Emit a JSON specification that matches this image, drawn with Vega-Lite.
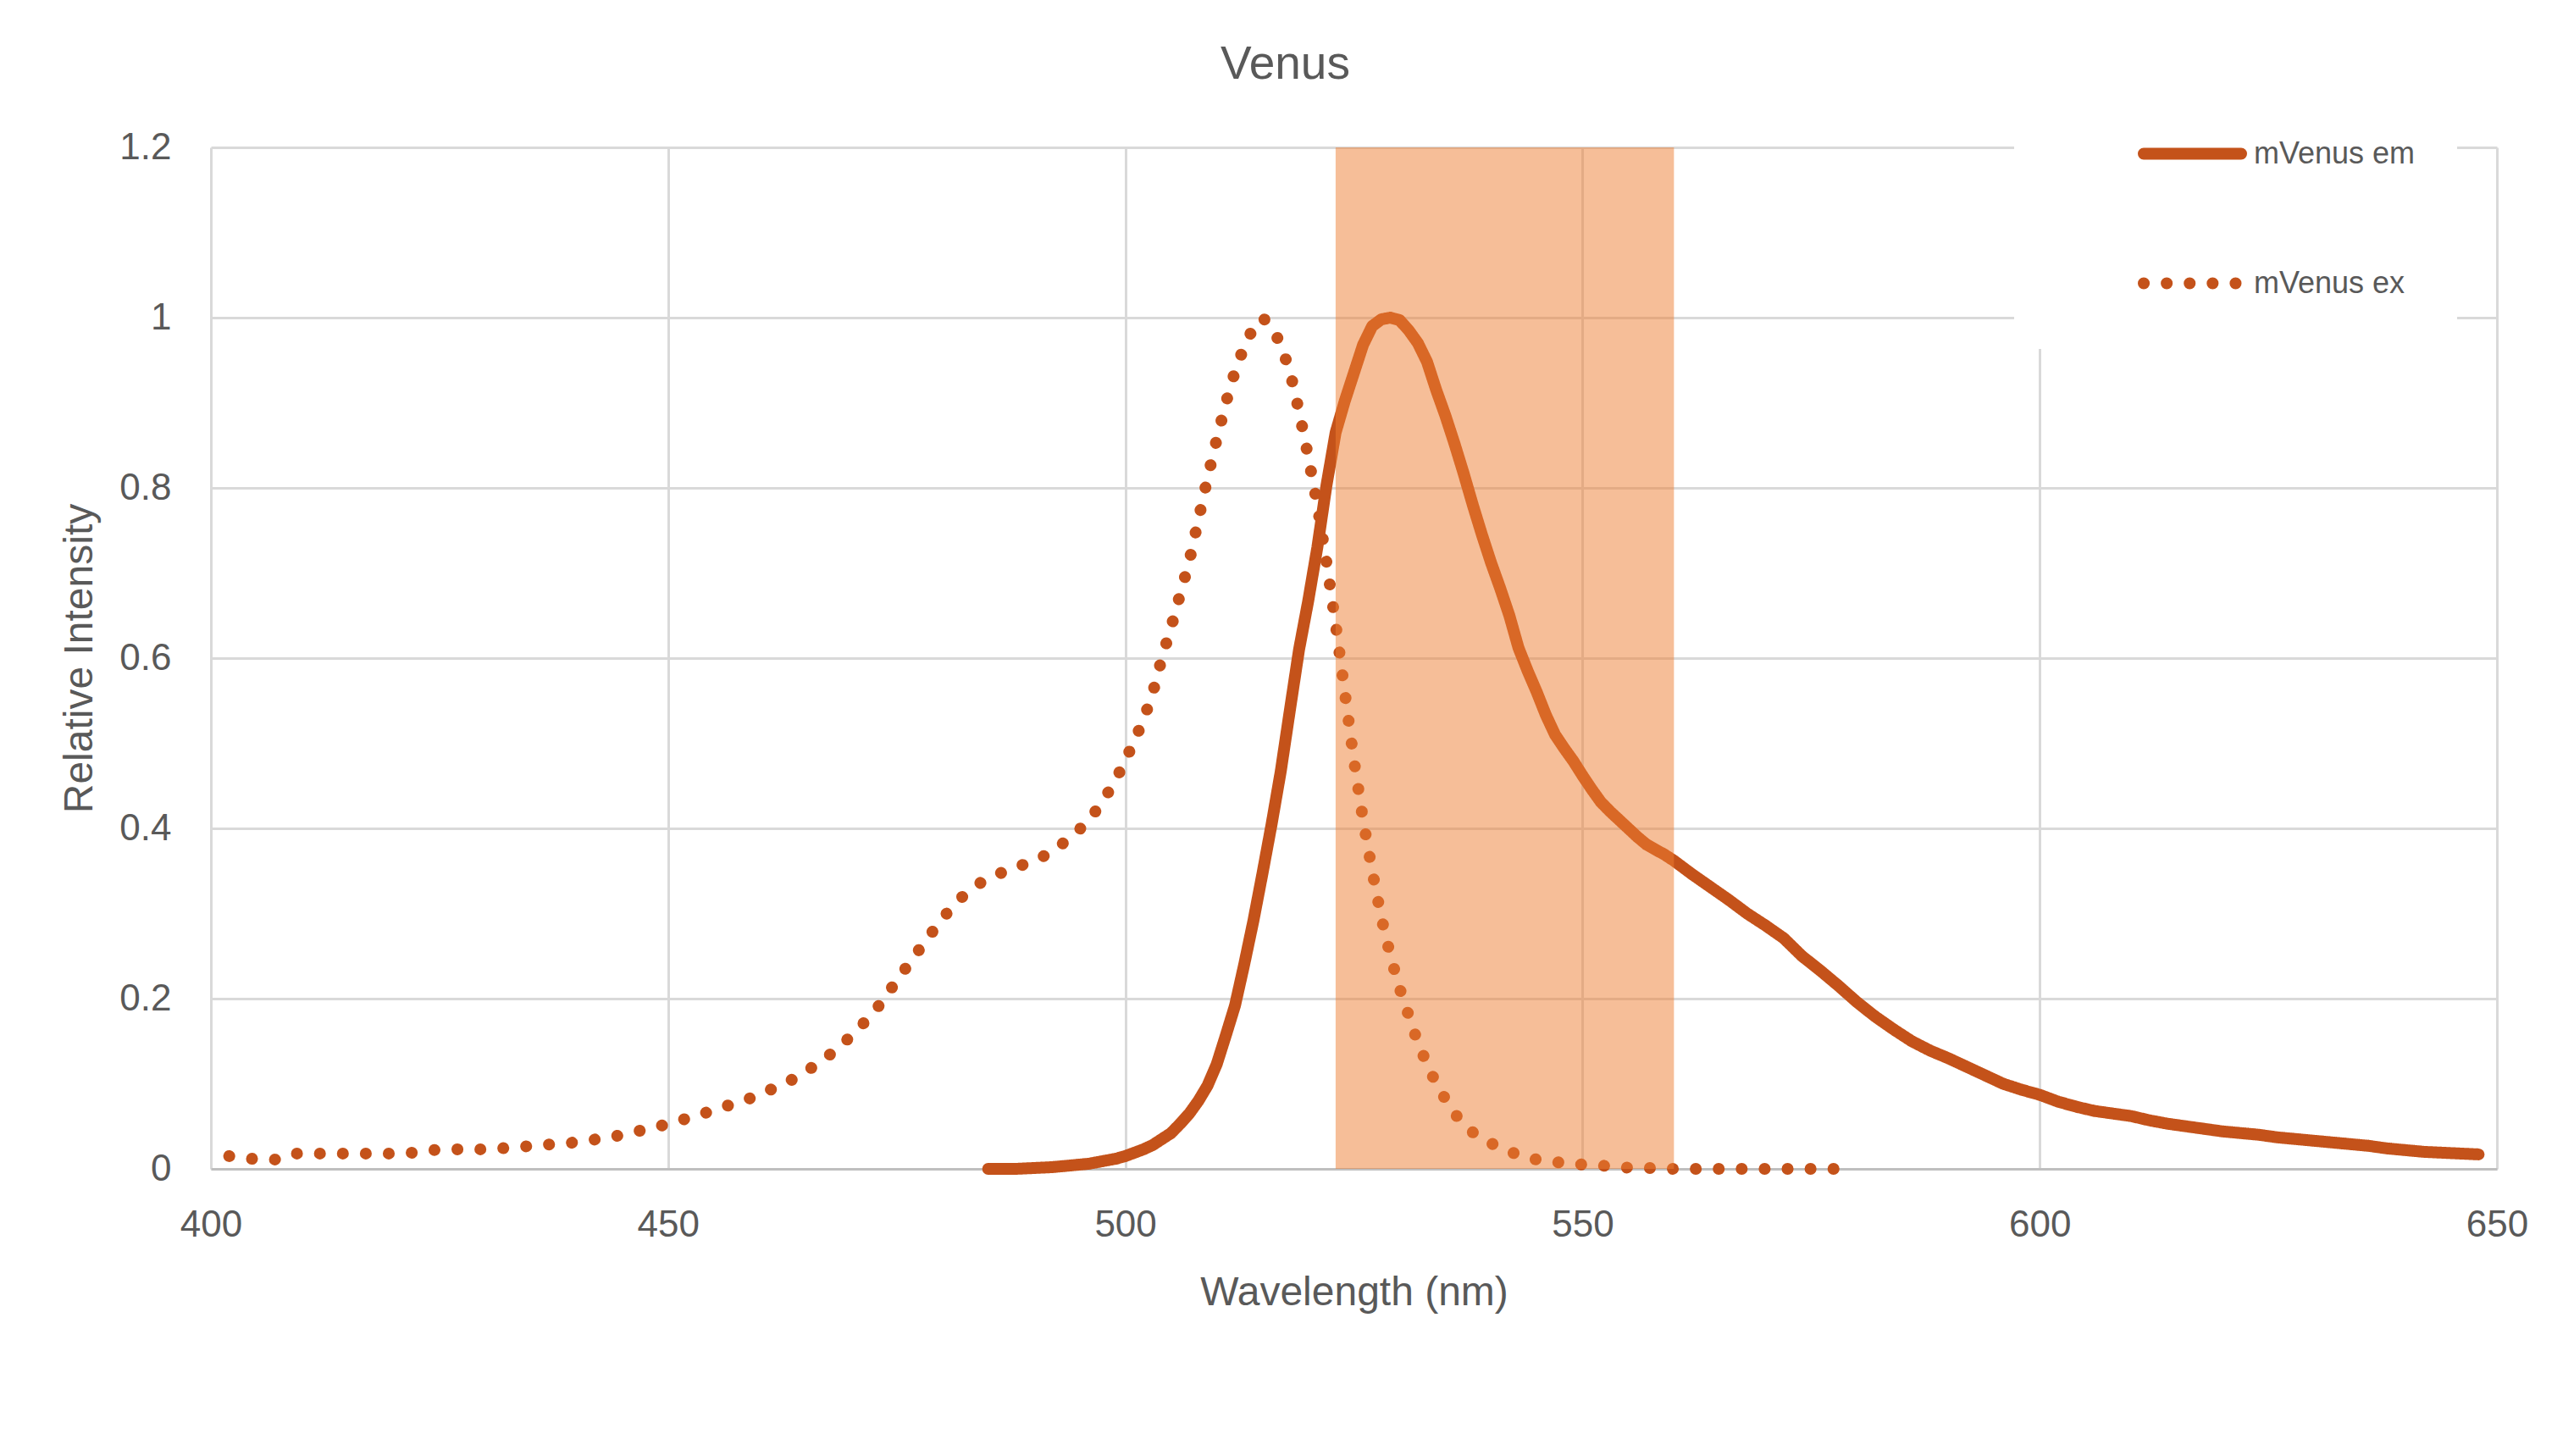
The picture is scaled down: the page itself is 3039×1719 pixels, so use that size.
{
  "$schema": "https://vega.github.io/schema/vega-lite/v6.json",
  "autosize": {"type": "none"},
  "padding": {"left": 249, "top": 174, "right": 91, "bottom": 339},
  "width": 2699,
  "height": 1206,
  "background": "white",
  "title": {"text": "Venus", "fontSize": 55, "font": "Liberation Sans", "fontWeight": "normal", "color": "#595959", "anchor": "middle", "frame": "group", "dx": -81, "offset": 0, "dy": 80, "baseline": "alphabetic"},
  "config": {"view": {"stroke": null}, "font": "Liberation Sans"},
  "datasets": {
    "spectra": [
      {"s": "mVenus ex", "wl": 402, "v": 0.015}, {"s": "mVenus ex", "wl": 404, "v": 0.012}, {"s": "mVenus ex", "wl": 407, "v": 0.011}, {"s": "mVenus ex", "wl": 409, "v": 0.018},
      {"s": "mVenus ex", "wl": 412, "v": 0.018}, {"s": "mVenus ex", "wl": 416, "v": 0.018}, {"s": "mVenus ex", "wl": 420, "v": 0.018}, {"s": "mVenus ex", "wl": 422, "v": 0.019},
      {"s": "mVenus ex", "wl": 424, "v": 0.022}, {"s": "mVenus ex", "wl": 427, "v": 0.023}, {"s": "mVenus ex", "wl": 430, "v": 0.023}, {"s": "mVenus ex", "wl": 433, "v": 0.025},
      {"s": "mVenus ex", "wl": 436, "v": 0.028}, {"s": "mVenus ex", "wl": 439, "v": 0.030}, {"s": "mVenus ex", "wl": 441, "v": 0.033}, {"s": "mVenus ex", "wl": 443, "v": 0.036},
      {"s": "mVenus ex", "wl": 445, "v": 0.040}, {"s": "mVenus ex", "wl": 447, "v": 0.045}, {"s": "mVenus ex", "wl": 449, "v": 0.050}, {"s": "mVenus ex", "wl": 451, "v": 0.056},
      {"s": "mVenus ex", "wl": 453, "v": 0.062}, {"s": "mVenus ex", "wl": 455, "v": 0.069}, {"s": "mVenus ex", "wl": 457, "v": 0.076}, {"s": "mVenus ex", "wl": 459, "v": 0.083},
      {"s": "mVenus ex", "wl": 461, "v": 0.092}, {"s": "mVenus ex", "wl": 462, "v": 0.097}, {"s": "mVenus ex", "wl": 463, "v": 0.102}, {"s": "mVenus ex", "wl": 464, "v": 0.107},
      {"s": "mVenus ex", "wl": 465, "v": 0.114}, {"s": "mVenus ex", "wl": 466, "v": 0.121}, {"s": "mVenus ex", "wl": 467, "v": 0.128}, {"s": "mVenus ex", "wl": 468, "v": 0.137},
      {"s": "mVenus ex", "wl": 469, "v": 0.146}, {"s": "mVenus ex", "wl": 470, "v": 0.156}, {"s": "mVenus ex", "wl": 471, "v": 0.167}, {"s": "mVenus ex", "wl": 472, "v": 0.178},
      {"s": "mVenus ex", "wl": 473, "v": 0.191}, {"s": "mVenus ex", "wl": 474, "v": 0.206}, {"s": "mVenus ex", "wl": 475, "v": 0.221}, {"s": "mVenus ex", "wl": 476, "v": 0.236},
      {"s": "mVenus ex", "wl": 477, "v": 0.251}, {"s": "mVenus ex", "wl": 478, "v": 0.265}, {"s": "mVenus ex", "wl": 479, "v": 0.280}, {"s": "mVenus ex", "wl": 480, "v": 0.294},
      {"s": "mVenus ex", "wl": 481, "v": 0.307}, {"s": "mVenus ex", "wl": 482, "v": 0.318}, {"s": "mVenus ex", "wl": 483, "v": 0.327}, {"s": "mVenus ex", "wl": 484, "v": 0.335},
      {"s": "mVenus ex", "wl": 485, "v": 0.341}, {"s": "mVenus ex", "wl": 486, "v": 0.346}, {"s": "mVenus ex", "wl": 487, "v": 0.350}, {"s": "mVenus ex", "wl": 488, "v": 0.354},
      {"s": "mVenus ex", "wl": 489, "v": 0.358}, {"s": "mVenus ex", "wl": 490, "v": 0.362}, {"s": "mVenus ex", "wl": 491, "v": 0.367}, {"s": "mVenus ex", "wl": 492, "v": 0.373},
      {"s": "mVenus ex", "wl": 493, "v": 0.381}, {"s": "mVenus ex", "wl": 494, "v": 0.389}, {"s": "mVenus ex", "wl": 495, "v": 0.399}, {"s": "mVenus ex", "wl": 496, "v": 0.409},
      {"s": "mVenus ex", "wl": 497, "v": 0.424}, {"s": "mVenus ex", "wl": 498, "v": 0.440}, {"s": "mVenus ex", "wl": 499, "v": 0.458}, {"s": "mVenus ex", "wl": 500, "v": 0.480},
      {"s": "mVenus ex", "wl": 501, "v": 0.503}, {"s": "mVenus ex", "wl": 502, "v": 0.528}, {"s": "mVenus ex", "wl": 503, "v": 0.559}, {"s": "mVenus ex", "wl": 504, "v": 0.600},
      {"s": "mVenus ex", "wl": 505, "v": 0.636}, {"s": "mVenus ex", "wl": 506, "v": 0.675}, {"s": "mVenus ex", "wl": 507, "v": 0.714}, {"s": "mVenus ex", "wl": 508, "v": 0.763},
      {"s": "mVenus ex", "wl": 509, "v": 0.812}, {"s": "mVenus ex", "wl": 510, "v": 0.857}, {"s": "mVenus ex", "wl": 511, "v": 0.900}, {"s": "mVenus ex", "wl": 512, "v": 0.937},
      {"s": "mVenus ex", "wl": 513, "v": 0.966}, {"s": "mVenus ex", "wl": 514, "v": 0.988}, {"s": "mVenus ex", "wl": 515, "v": 1.000}, {"s": "mVenus ex", "wl": 516, "v": 0.990},
      {"s": "mVenus ex", "wl": 517, "v": 0.968}, {"s": "mVenus ex", "wl": 518, "v": 0.937}, {"s": "mVenus ex", "wl": 519, "v": 0.890}, {"s": "mVenus ex", "wl": 520, "v": 0.837},
      {"s": "mVenus ex", "wl": 521, "v": 0.780}, {"s": "mVenus ex", "wl": 522, "v": 0.713}, {"s": "mVenus ex", "wl": 523, "v": 0.640}, {"s": "mVenus ex", "wl": 524, "v": 0.560},
      {"s": "mVenus ex", "wl": 525, "v": 0.480}, {"s": "mVenus ex", "wl": 526, "v": 0.410}, {"s": "mVenus ex", "wl": 527, "v": 0.350}, {"s": "mVenus ex", "wl": 528, "v": 0.295},
      {"s": "mVenus ex", "wl": 529, "v": 0.250}, {"s": "mVenus ex", "wl": 530, "v": 0.212}, {"s": "mVenus ex", "wl": 531, "v": 0.180}, {"s": "mVenus ex", "wl": 532, "v": 0.148},
      {"s": "mVenus ex", "wl": 533, "v": 0.123}, {"s": "mVenus ex", "wl": 534, "v": 0.100}, {"s": "mVenus ex", "wl": 535, "v": 0.082}, {"s": "mVenus ex", "wl": 536, "v": 0.065},
      {"s": "mVenus ex", "wl": 537, "v": 0.053}, {"s": "mVenus ex", "wl": 538, "v": 0.043}, {"s": "mVenus ex", "wl": 539, "v": 0.036}, {"s": "mVenus ex", "wl": 540, "v": 0.030},
      {"s": "mVenus ex", "wl": 541, "v": 0.025}, {"s": "mVenus ex", "wl": 542, "v": 0.020}, {"s": "mVenus ex", "wl": 543, "v": 0.017}, {"s": "mVenus ex", "wl": 544, "v": 0.013},
      {"s": "mVenus ex", "wl": 545, "v": 0.011}, {"s": "mVenus ex", "wl": 546, "v": 0.009}, {"s": "mVenus ex", "wl": 548, "v": 0.007}, {"s": "mVenus ex", "wl": 550, "v": 0.005},
      {"s": "mVenus ex", "wl": 552, "v": 0.004}, {"s": "mVenus ex", "wl": 554, "v": 0.002}, {"s": "mVenus ex", "wl": 556, "v": 0.001}, {"s": "mVenus ex", "wl": 558, "v": 0.001},
      {"s": "mVenus ex", "wl": 560, "v": 0.0}, {"s": "mVenus ex", "wl": 565, "v": 0.0}, {"s": "mVenus ex", "wl": 570, "v": 0.0}, {"s": "mVenus ex", "wl": 575, "v": 0.0},
      {"s": "mVenus ex", "wl": 579, "v": 0.0},
      {"s": "mVenus em", "wl": 485, "v": 0.0}, {"s": "mVenus em", "wl": 488, "v": 0.0}, {"s": "mVenus em", "wl": 490, "v": 0.001}, {"s": "mVenus em", "wl": 492, "v": 0.002},
      {"s": "mVenus em", "wl": 494, "v": 0.004}, {"s": "mVenus em", "wl": 496, "v": 0.006}, {"s": "mVenus em", "wl": 497, "v": 0.008}, {"s": "mVenus em", "wl": 498, "v": 0.010},
      {"s": "mVenus em", "wl": 499, "v": 0.012}, {"s": "mVenus em", "wl": 500, "v": 0.015}, {"s": "mVenus em", "wl": 501, "v": 0.019}, {"s": "mVenus em", "wl": 502, "v": 0.023},
      {"s": "mVenus em", "wl": 503, "v": 0.028}, {"s": "mVenus em", "wl": 504, "v": 0.035}, {"s": "mVenus em", "wl": 505, "v": 0.042}, {"s": "mVenus em", "wl": 506, "v": 0.053},
      {"s": "mVenus em", "wl": 507, "v": 0.065}, {"s": "mVenus em", "wl": 508, "v": 0.080}, {"s": "mVenus em", "wl": 509, "v": 0.098}, {"s": "mVenus em", "wl": 510, "v": 0.123},
      {"s": "mVenus em", "wl": 511, "v": 0.157}, {"s": "mVenus em", "wl": 512, "v": 0.192}, {"s": "mVenus em", "wl": 513, "v": 0.240}, {"s": "mVenus em", "wl": 514, "v": 0.291},
      {"s": "mVenus em", "wl": 515, "v": 0.347}, {"s": "mVenus em", "wl": 516, "v": 0.405}, {"s": "mVenus em", "wl": 517, "v": 0.467}, {"s": "mVenus em", "wl": 518, "v": 0.539},
      {"s": "mVenus em", "wl": 519, "v": 0.610}, {"s": "mVenus em", "wl": 520, "v": 0.667}, {"s": "mVenus em", "wl": 521, "v": 0.730}, {"s": "mVenus em", "wl": 522, "v": 0.803},
      {"s": "mVenus em", "wl": 523, "v": 0.865}, {"s": "mVenus em", "wl": 524, "v": 0.902}, {"s": "mVenus em", "wl": 525, "v": 0.935}, {"s": "mVenus em", "wl": 526, "v": 0.968},
      {"s": "mVenus em", "wl": 527, "v": 0.990}, {"s": "mVenus em", "wl": 528, "v": 0.998}, {"s": "mVenus em", "wl": 529, "v": 1.000}, {"s": "mVenus em", "wl": 530, "v": 0.997},
      {"s": "mVenus em", "wl": 531, "v": 0.985}, {"s": "mVenus em", "wl": 532, "v": 0.970}, {"s": "mVenus em", "wl": 533, "v": 0.948}, {"s": "mVenus em", "wl": 534, "v": 0.915},
      {"s": "mVenus em", "wl": 535, "v": 0.885}, {"s": "mVenus em", "wl": 536, "v": 0.852}, {"s": "mVenus em", "wl": 537, "v": 0.817}, {"s": "mVenus em", "wl": 538, "v": 0.780},
      {"s": "mVenus em", "wl": 539, "v": 0.745}, {"s": "mVenus em", "wl": 540, "v": 0.712}, {"s": "mVenus em", "wl": 541, "v": 0.682}, {"s": "mVenus em", "wl": 542, "v": 0.650},
      {"s": "mVenus em", "wl": 543, "v": 0.612}, {"s": "mVenus em", "wl": 544, "v": 0.585}, {"s": "mVenus em", "wl": 545, "v": 0.560}, {"s": "mVenus em", "wl": 546, "v": 0.533},
      {"s": "mVenus em", "wl": 547, "v": 0.510}, {"s": "mVenus em", "wl": 548, "v": 0.494}, {"s": "mVenus em", "wl": 549, "v": 0.479}, {"s": "mVenus em", "wl": 550, "v": 0.462},
      {"s": "mVenus em", "wl": 551, "v": 0.446}, {"s": "mVenus em", "wl": 552, "v": 0.431}, {"s": "mVenus em", "wl": 553, "v": 0.420}, {"s": "mVenus em", "wl": 554, "v": 0.410},
      {"s": "mVenus em", "wl": 555, "v": 0.400}, {"s": "mVenus em", "wl": 556, "v": 0.390}, {"s": "mVenus em", "wl": 557, "v": 0.381}, {"s": "mVenus em", "wl": 558, "v": 0.375},
      {"s": "mVenus em", "wl": 559, "v": 0.369}, {"s": "mVenus em", "wl": 560, "v": 0.362}, {"s": "mVenus em", "wl": 561, "v": 0.354}, {"s": "mVenus em", "wl": 562, "v": 0.346},
      {"s": "mVenus em", "wl": 564, "v": 0.331}, {"s": "mVenus em", "wl": 566, "v": 0.316}, {"s": "mVenus em", "wl": 568, "v": 0.300}, {"s": "mVenus em", "wl": 570, "v": 0.286},
      {"s": "mVenus em", "wl": 572, "v": 0.271}, {"s": "mVenus em", "wl": 574, "v": 0.250}, {"s": "mVenus em", "wl": 576, "v": 0.233}, {"s": "mVenus em", "wl": 578, "v": 0.215},
      {"s": "mVenus em", "wl": 580, "v": 0.196}, {"s": "mVenus em", "wl": 582, "v": 0.179}, {"s": "mVenus em", "wl": 584, "v": 0.164}, {"s": "mVenus em", "wl": 586, "v": 0.150},
      {"s": "mVenus em", "wl": 588, "v": 0.139}, {"s": "mVenus em", "wl": 590, "v": 0.130}, {"s": "mVenus em", "wl": 592, "v": 0.120}, {"s": "mVenus em", "wl": 594, "v": 0.110},
      {"s": "mVenus em", "wl": 596, "v": 0.100}, {"s": "mVenus em", "wl": 598, "v": 0.093}, {"s": "mVenus em", "wl": 600, "v": 0.087}, {"s": "mVenus em", "wl": 602, "v": 0.079},
      {"s": "mVenus em", "wl": 604, "v": 0.073}, {"s": "mVenus em", "wl": 606, "v": 0.068}, {"s": "mVenus em", "wl": 608, "v": 0.065}, {"s": "mVenus em", "wl": 610, "v": 0.062},
      {"s": "mVenus em", "wl": 612, "v": 0.057}, {"s": "mVenus em", "wl": 614, "v": 0.053}, {"s": "mVenus em", "wl": 616, "v": 0.050}, {"s": "mVenus em", "wl": 618, "v": 0.047},
      {"s": "mVenus em", "wl": 620, "v": 0.044}, {"s": "mVenus em", "wl": 622, "v": 0.042}, {"s": "mVenus em", "wl": 624, "v": 0.040}, {"s": "mVenus em", "wl": 626, "v": 0.037},
      {"s": "mVenus em", "wl": 628, "v": 0.035}, {"s": "mVenus em", "wl": 630, "v": 0.033}, {"s": "mVenus em", "wl": 632, "v": 0.031}, {"s": "mVenus em", "wl": 634, "v": 0.029},
      {"s": "mVenus em", "wl": 636, "v": 0.027}, {"s": "mVenus em", "wl": 638, "v": 0.024}, {"s": "mVenus em", "wl": 640, "v": 0.022}, {"s": "mVenus em", "wl": 642, "v": 0.020},
      {"s": "mVenus em", "wl": 644, "v": 0.019}, {"s": "mVenus em", "wl": 646, "v": 0.018}, {"s": "mVenus em", "wl": 648, "v": 0.017}
    ],
    "band": [{"start": 523, "end": 560, "lo": 0, "hi": 1.2}]
  },
  "layer": [
    {
      "data": {"name": "spectra"},
      "mark": {"type": "line", "strokeWidth": 14, "strokeCap": "round", "strokeJoin": "round"},
      "encoding": {
        "x": {
          "field": "wl", "type": "quantitative", "title": "Wavelength (nm)",
          "scale": {"domain": [400, 650], "nice": false, "zero": false},
          "axis": {"values": [400, 450, 500, 550, 600, 650], "format": "d", "grid": true, "gridColor": "#d9d9d9", "gridWidth": 3,
                   "domain": true, "domainColor": "#bfbfbf", "domainWidth": 3, "ticks": false, "tickSize": 0,
                   "labelFont": "Liberation Sans", "labelFontSize": 44, "labelColor": "#595959", "labelPadding": 44, "labelFlush": false, "labelOverlap": false,
                   "titleFont": "Liberation Sans", "titleFontSize": 48, "titleFontWeight": "normal", "titleColor": "#595959", "titlePadding": 34}
        },
        "y": {
          "field": "v", "type": "quantitative", "title": "Relative Intensity",
          "scale": {"domain": [0, 1.2], "nice": false},
          "axis": {"values": [0, 0.2, 0.4, 0.6, 0.8, 1, 1.2], "format": "~g", "grid": true, "gridColor": "#d9d9d9", "gridWidth": 3,
                   "domain": false, "ticks": false, "tickSize": 0,
                   "labelFont": "Liberation Sans", "labelFontSize": 44, "labelColor": "#595959", "labelPadding": 47, "labelFlush": false, "labelOverlap": false,
                   "titleFont": "Liberation Sans", "titleFontSize": 48, "titleFontWeight": "normal", "titleColor": "#595959", "titlePadding": 22}
        },
        "color": {
          "field": "s", "type": "nominal",
          "scale": {"domain": ["mVenus em", "mVenus ex"], "range": ["#C4521A", "#C4521A"]},
          "legend": {"title": null, "orient": "none", "legendX": 2129, "legendY": -106, "fillColor": "white", "padding": 49,
                     "symbolType": "stroke", "symbolSize": 13225, "symbolStrokeWidth": 14, "symbolOffset": 97, "labelOffset": 8,
                     "labelFont": "Liberation Sans", "labelFontSize": 36, "labelColor": "#595959", "labelLimit": 500, "rowPadding": 60,
                     "encode": {"symbols": {"update": {"strokeCap": {"value": "round"}}}}}
        },
        "strokeDash": {
          "field": "s", "type": "nominal",
          "scale": {"domain": ["mVenus em", "mVenus ex"], "range": [[1, 0], [0.1, 27]]},
          "legend": {"title": null, "orient": "none", "legendX": 2129, "legendY": -106, "fillColor": "white", "padding": 49,
                     "symbolType": "stroke", "symbolSize": 13225, "symbolStrokeWidth": 14, "symbolOffset": 97, "labelOffset": 8,
                     "labelFont": "Liberation Sans", "labelFontSize": 36, "labelColor": "#595959", "labelLimit": 500, "rowPadding": 60,
                     "encode": {"symbols": {"update": {"strokeCap": {"value": "round"}}}}}
        }
      }
    },
    {
      "data": {"name": "band"},
      "mark": {"type": "rect", "color": "#ED7D31", "opacity": 0.5},
      "encoding": {
        "x": {"field": "start", "type": "quantitative", "title": "Wavelength (nm)"},
        "x2": {"field": "end"},
        "y": {"field": "lo", "type": "quantitative", "title": "Relative Intensity"},
        "y2": {"field": "hi"}
      }
    }
  ]
}
